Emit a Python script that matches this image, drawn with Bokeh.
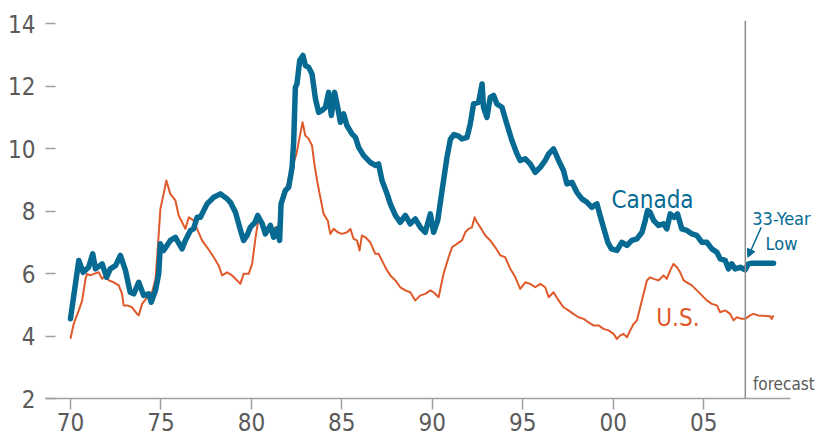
from bokeh.plotting import figure
from bokeh.models import Range1d, FixedTicker, Span, Label, Arrow, NormalHead
from bokeh.embed import file_html
from bokeh.resources import INLINE

# ---- data ----
canada_year = [1970.0, 1970.46, 1970.7, 1971.0, 1971.23, 1971.38, 1971.75, 1972.0, 1972.2, 1972.5,
               1972.76, 1973.04, 1973.3, 1973.5, 1973.77, 1974.05, 1974.33, 1974.46, 1974.7, 1974.88,
               1974.97, 1975.15, 1975.52, 1975.8, 1976.17, 1976.35, 1976.63, 1976.8, 1977.0, 1977.18,
               1977.55, 1977.92, 1978.29, 1978.66, 1978.84, 1979.12, 1979.4, 1979.57, 1979.76, 1979.94,
               1980.2, 1980.35, 1980.6, 1980.77, 1981.05, 1981.23, 1981.42, 1981.56, 1981.64, 1981.88,
               1982.06, 1982.25, 1982.34, 1982.43, 1982.52, 1982.67, 1982.85, 1982.98, 1983.17, 1983.35,
               1983.54, 1983.72, 1983.9, 1984.09, 1984.27, 1984.42, 1984.6, 1984.77, 1984.92, 1985.1,
               1985.28, 1985.56, 1985.75, 1985.93, 1986.2, 1986.57, 1986.85, 1987.03, 1987.22, 1987.5,
               1987.68, 1987.96, 1988.23, 1988.51, 1988.78, 1989.06, 1989.34, 1989.61, 1989.89, 1990.07,
               1990.3, 1990.54, 1990.81, 1991.0, 1991.2, 1991.45, 1991.64, 1991.92, 1992.1, 1992.28,
               1992.56, 1992.75, 1992.83, 1993.02, 1993.2, 1993.39, 1993.57, 1993.85, 1994.12, 1994.4,
               1994.68, 1994.86, 1995.14, 1995.41, 1995.69, 1995.97, 1996.24, 1996.43, 1996.7, 1996.98,
               1997.25, 1997.44, 1997.72, 1997.99, 1998.27, 1998.55, 1998.82, 1999.1, 1999.3, 1999.5,
               1999.7, 1999.9, 2000.2, 2000.48, 2000.76, 2001.03, 2001.31, 2001.59, 2001.77, 2001.9,
               2002.04, 2002.23, 2002.5, 2002.78, 2002.96, 2003.15, 2003.37, 2003.55, 2003.79, 2004.07,
               2004.34, 2004.62, 2004.9, 2005.17, 2005.45, 2005.73, 2005.91, 2006.19, 2006.37, 2006.55,
               2006.74, 2007.02, 2007.29, 2007.47, 2007.66, 2008.86]
canada_rate = [4.55, 6.42, 6.04, 6.2, 6.63, 6.15, 6.31, 5.88, 6.15, 6.26,
               6.58, 6.1, 5.4, 5.35, 5.72, 5.3, 5.35, 5.08, 5.46, 6.0,
               6.95, 6.74, 7.06, 7.16, 6.79, 7.06, 7.38, 7.43, 7.8, 7.8,
               8.23, 8.44, 8.55, 8.39, 8.28, 7.96, 7.38, 7.06, 7.22, 7.48,
               7.64, 7.86, 7.59, 7.27, 7.54, 7.16, 7.43, 7.06, 8.23, 8.66,
               8.76, 9.4, 10.26, 11.96, 12.07, 12.82, 12.98, 12.66, 12.6, 12.39,
               11.59, 11.16, 11.22, 11.32, 11.8, 11.06, 11.8, 11.32, 10.84, 11.11,
               10.74, 10.47, 10.36, 10.04, 9.78, 9.56, 9.46, 9.51, 8.98, 8.55,
               8.23, 7.86, 7.64, 7.86, 7.59, 7.75, 7.48, 7.32, 7.91, 7.32,
               7.7, 8.66, 9.72, 10.3, 10.45, 10.4, 10.31, 10.36, 10.79, 11.43,
               11.48, 12.07, 11.32, 11.0, 11.64, 11.7, 11.43, 11.32, 10.79, 10.26,
               9.83, 9.62, 9.67, 9.51, 9.24, 9.4, 9.62, 9.83, 9.99, 9.62,
               9.3, 8.87, 8.92, 8.6, 8.39, 8.28, 8.12, 8.23, 7.8, 7.4,
               7.0, 6.79, 6.74, 7.0, 6.9, 7.06, 7.11, 7.32, 7.7, 8.02,
               7.96, 7.7, 7.54, 7.59, 7.43, 7.91, 7.8, 7.91, 7.43, 7.38,
               7.27, 7.22, 7.0, 7.0, 6.79, 6.68, 6.47, 6.42, 6.15, 6.31,
               6.15, 6.2, 6.12, 6.31, 6.33, 6.33]

us_year = [1970.0, 1970.18, 1970.46, 1970.65, 1970.83, 1970.92, 1971.1, 1971.29, 1971.56, 1971.75,
           1971.93, 1972.12, 1972.39, 1972.67, 1972.85, 1972.94, 1973.13, 1973.4, 1973.68, 1973.77,
           1973.96, 1974.24, 1974.51, 1974.7, 1974.83, 1974.97, 1975.15, 1975.3, 1975.52, 1975.8,
           1975.98, 1976.17, 1976.35, 1976.54, 1976.8, 1977.0, 1977.27, 1977.55, 1977.92, 1978.19,
           1978.38, 1978.66, 1978.93, 1979.21, 1979.39, 1979.57, 1979.85, 1980.04, 1980.22, 1980.4,
           1980.6, 1980.77, 1980.96, 1981.14, 1981.33, 1981.45, 1981.6, 1981.78, 1982.0, 1982.25,
           1982.49, 1982.7, 1982.83, 1982.98, 1983.17, 1983.35, 1983.48, 1983.63, 1983.81, 1983.99,
           1984.22, 1984.36, 1984.55, 1984.77, 1985.01, 1985.29, 1985.47, 1985.65, 1985.84, 1985.98,
           1986.11, 1986.3, 1986.57, 1986.85, 1987.03, 1987.31, 1987.5, 1987.68, 1987.96, 1988.23,
           1988.51, 1988.78, 1989.06, 1989.34, 1989.61, 1989.89, 1990.07, 1990.35, 1990.62, 1990.9,
           1991.09, 1991.36, 1991.64, 1991.82, 1992.0, 1992.19, 1992.34, 1992.47, 1992.65, 1992.93,
           1993.2, 1993.48, 1993.76, 1994.03, 1994.31, 1994.59, 1994.86, 1995.14, 1995.41, 1995.69,
           1995.97, 1996.24, 1996.43, 1996.7, 1996.98, 1997.25, 1997.52, 1997.8, 1998.08, 1998.36,
           1998.63, 1998.91, 1999.19, 1999.46, 1999.74, 2000.02, 2000.2, 2000.39, 2000.57, 2000.76,
           2000.94, 2001.13, 2001.31, 2001.49, 2001.68, 2001.86, 2002.04, 2002.23, 2002.5, 2002.78,
           2002.96, 2003.15, 2003.33, 2003.52, 2003.7, 2003.89, 2004.07, 2004.34, 2004.62, 2004.9,
           2005.17, 2005.45, 2005.73, 2005.91, 2006.19, 2006.46, 2006.65, 2006.83, 2007.1, 2007.29,
           2007.57, 2007.75, 2008.02, 2008.67, 2008.76, 2008.86]
us_rate = [3.91, 4.39, 4.82, 5.14, 5.83, 5.99, 5.94, 5.99, 6.04, 5.83,
           5.94, 5.78, 5.72, 5.62, 5.35, 4.98, 4.98, 4.92, 4.71, 4.66,
           5.03, 5.24, 5.4, 5.83, 6.84, 8.07, 8.55, 8.98, 8.55, 8.34,
           7.86, 7.64, 7.43, 7.8, 7.7, 7.43, 7.06, 6.84, 6.52, 6.26,
           5.94, 6.04, 5.94, 5.78, 5.67, 5.99, 5.99, 6.31, 7.11, 7.8,
           7.54, 7.38, 7.48, 7.38, 7.48, 7.27, 8.12, 8.44, 8.87, 9.4,
           9.83, 10.47, 10.84, 10.42, 10.31, 10.1, 9.51, 8.98, 8.44, 7.91,
           7.7, 7.27, 7.43, 7.32, 7.27, 7.32, 7.43, 7.11, 7.06, 6.74,
           7.22, 7.16, 7.0, 6.63, 6.63, 6.31, 6.1, 5.94, 5.78, 5.56,
           5.46, 5.4, 5.14, 5.3, 5.35, 5.46, 5.4, 5.24, 5.99, 6.52,
           6.84, 6.95, 7.06, 7.32, 7.43, 7.48, 7.8, 7.64, 7.48, 7.22,
           7.06, 6.84, 6.58, 6.52, 6.15, 5.88, 5.51, 5.72, 5.67, 5.56,
           5.67, 5.56, 5.24, 5.4, 5.14, 4.92, 4.82, 4.71, 4.6, 4.55,
           4.44, 4.34, 4.34, 4.23, 4.18, 4.07, 3.91, 4.02, 4.07, 3.96,
           4.18, 4.39, 4.5, 4.92, 5.35, 5.78, 5.88, 5.83, 5.78, 5.94,
           5.83, 6.1, 6.31, 6.2, 6.04, 5.78, 5.72, 5.62, 5.46, 5.3,
           5.14, 5.03, 4.98, 4.76, 4.82, 4.71, 4.5, 4.6, 4.55, 4.55,
           4.66, 4.71, 4.66, 4.63, 4.55, 4.66]

x_ticks = [1970, 1975, 1980, 1985, 1990, 1995, 2000, 2005]
x_tick_labels = ["70", "75", "80", "85", "90", "95", "00", "05"]
y_ticks = [2, 4, 6, 8, 10, 12, 14]
forecast_start = 2007.3

BLUE = "#066a93"
ORANGE = "#e0592a"
GRAY_TXT = "#5a5a5a"
GRAY_LN = "#a0a0a0"
FONT = "DejaVu Sans Condensed"

p = figure(width=817, height=439, output_backend="svg", toolbar_location=None,
           x_range=Range1d(1968.62, 2011.29), y_range=Range1d(2, 14.1),
           min_border_left=45, min_border_right=0, min_border_top=20, min_border_bottom=41)
p.outline_line_color = None
p.grid.grid_line_color = None
p.background_fill_color = "white"
p.border_fill_color = "white"

# x axis
xa = p.xaxis[0]
xa.bounds = (1968.62, 2009.8)
xa.ticker = FixedTicker(ticks=x_ticks)
xa.major_label_overrides = {t: l for t, l in zip(x_ticks, x_tick_labels)}
xa.axis_line_color = GRAY_LN
xa.axis_line_width = 1.5
xa.major_tick_line_color = GRAY_LN
xa.major_tick_line_width = 1.5
xa.major_tick_out = 11
xa.major_tick_in = 0
xa.minor_tick_line_color = None
xa.major_label_standoff = 3
xa.major_label_text_font = FONT
xa.major_label_text_font_size = "24px"
xa.major_label_text_color = GRAY_TXT

# y axis
ya = p.yaxis[0]
ya.ticker = FixedTicker(ticks=y_ticks)
ya.axis_line_color = None
ya.major_tick_line_color = GRAY_LN
ya.major_tick_line_width = 1.5
ya.major_tick_in = 10
ya.major_tick_out = 0
ya.minor_tick_line_color = None
ya.major_label_standoff = 10
ya.major_label_text_font = FONT
ya.major_label_text_font_size = "24px"
ya.major_label_text_color = GRAY_TXT

# series
p.line(us_year, us_rate, line_color=ORANGE, line_width=2, line_join="round")
p.line(canada_year, canada_rate, line_color=BLUE, line_width=5.5, line_join="round", line_cap="round")

# forecast divider
p.add_layout(Span(location=forecast_start, dimension="height", line_color="#8c8c8c", line_width=1.5))

# annotations
p.add_layout(Label(x=1999.9, y=8.37, text="Canada", text_font=FONT, text_font_size="24px",
                   text_color=BLUE, text_baseline="alphabetic"))
p.add_layout(Label(x=2002.38, y=4.59, text="U.S.", text_font=FONT, text_font_size="24px",
                   text_color=ORANGE, text_baseline="alphabetic"))
p.add_layout(Label(x=2009.3, y=7.76, text="33-Year", text_font=FONT, text_font_size="18px",
                   text_color=BLUE, text_align="center", text_baseline="alphabetic"))
p.add_layout(Label(x=2009.3, y=6.96, text="Low", text_font=FONT, text_font_size="18px",
                   text_color=BLUE, text_align="center", text_baseline="alphabetic"))
p.add_layout(Label(x=2007.72, y=2.45, text="forecast", text_font=FONT, text_font_size="17px",
                   text_color=GRAY_TXT, text_baseline="alphabetic"))
p.add_layout(Arrow(x_start=2008.18, y_start=7.48, x_end=2007.44, y_end=6.52,
                   line_color=BLUE, line_width=1.5,
                   end=NormalHead(size=8, fill_color=BLUE, line_color=BLUE)))

open("out.html", "w").write(file_html(p, INLINE))
